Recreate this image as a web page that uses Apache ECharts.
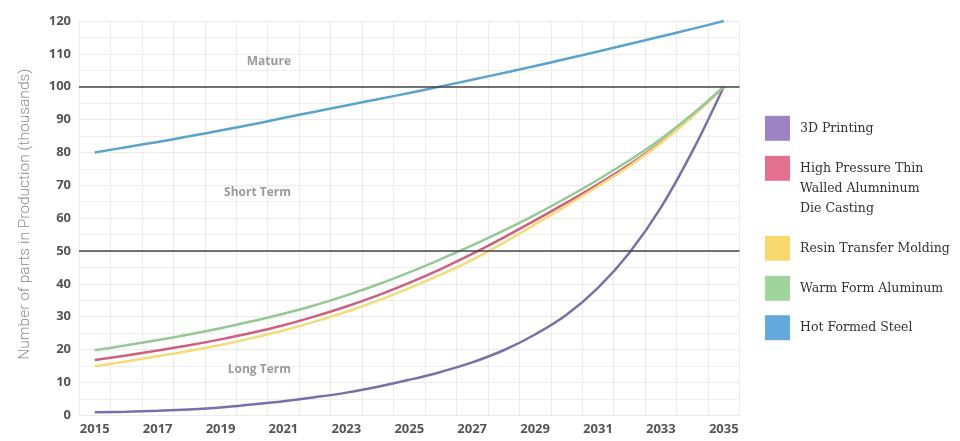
<!DOCTYPE html>
<html>
<head>
<meta charset="utf-8">
<title>Parts in production</title>
<script src="https://cdn.jsdelivr.net/npm/echarts@6/dist/echarts.min.js"></script>
<style>
  html, body { margin: 0; padding: 0; background: #fff; }
  #main { width: 960px; height: 441px; }
</style>
</head>
<body>
<div id="main"></div>
<script>
// years on the x axis
const years = ['2015','2016','2017','2018','2019','2020','2021','2022','2023','2024','2025',
               '2026','2027','2028','2029','2030','2031','2032','2033','2034','2035'];

// values (thousands of parts)
const printing3d    = [0.9, 1.1, 1.4, 1.8, 2.4, 3.3, 4.3, 5.5, 6.9, 8.7, 10.8, 13.2, 16.1, 19.8, 24.6, 30.6, 38.8, 49.5, 63.2, 80.3, 100];
const dieCasting    = [16.8, 18.2, 19.7, 21.3, 23.1, 25.1, 27.4, 30.1, 33.1, 36.5, 40.3, 44.5, 49.1, 54.1, 59.3, 64.7, 70.3, 76.3, 83.1, 91.0, 100];
const resinTransfer = [14.9, 16.4, 18.0, 19.6, 21.4, 23.5, 25.8, 28.5, 31.5, 34.9, 38.7, 42.8, 47.3, 52.5, 58.1, 63.8, 69.7, 75.9, 82.9, 91.0, 100];
const warmForm      = [19.8, 21.3, 22.9, 24.6, 26.5, 28.6, 30.9, 33.5, 36.5, 39.8, 43.5, 47.5, 51.7, 56.2, 61.0, 66.2, 71.7, 77.6, 84.1, 91.6, 100];
const hotFormed     = [80.0, 81.6, 83.2, 84.9, 86.7, 88.5, 90.5, 92.4, 94.3, 96.2, 98.1, 100.1, 102.1, 104.2, 106.3, 108.5, 110.7, 113.0, 115.3, 117.6, 120];

const seriesNames = ['3D Printing', 'High Pressure Thin\nWalled Alumninum\nDie Casting',
                     'Resin Transfer Molding', 'Warm Form Aluminum', 'Hot Formed Steel'];
const seriesData  = [printing3d, dieCasting, resinTransfer, warmForm, hotFormed];
const lineColors  = ['#7b6fa8', '#cf5f80', '#f3dc78', '#92c994', '#5aa4cc'];
const iconColors  = ['#9d82c4', '#e2708e', '#f7d86c', '#9fd49c', '#63a9dc'];
const thresholds  = [100, 50];

// legend item tops (px), one legend per entry so the 3-line name lines up with its square
const legendTops = [115.8, 118.3, 235.8, 275.8, 315.2];

const myChart = echarts.init(document.getElementById('main'));

let legends = seriesNames.map((name, i) => {
  let multi = name.indexOf('\n') > -1;
  return {
    left: 765,
    top: legendTops[i],
    padding: 0,
    orient: 'vertical',
    icon: 'rect',
    itemWidth: 25,
    itemHeight: 25,
    itemStyle: { borderWidth: 0 },
    // two empty lines on top push the 3-line name down so its first line sits beside the square
    formatter: multi ? (n => '\n\n' + n) : (n => n),
    textStyle: {
      fontFamily: 'DejaVu Serif',
      fontSize: 12.5,
      color: '#333',
      lineHeight: 20,
      padding: [0, 0, 0, 5],
      backgroundColor: 'rgba(0,0,0,0)'
    },
    data: [{ name: name, itemStyle: { color: iconColors[i] } }]
  };
});

let series = seriesNames.map((name, i) => ({
  name: name,
  type: 'line',
  data: seriesData[i],
  smooth: 0.4,
  symbol: 'none',
  color: lineColors[i],
  lineStyle: { width: 2.5, color: lineColors[i] },
  z: 3
}));

// the two black reference lines
series[0].markLine = {
  silent: true,
  symbol: 'none',
  label: { show: false },
  lineStyle: { color: '#444', width: 1.5, type: 'solid' },
  data: thresholds.map(v => ({ yAxis: v }))
};

const zoneFont = 'bold 12px "Open Sans"';

let option = {
  animation: false,
  grid: { left: 79, right: 220.5, top: 21, bottom: 25.7 },
  legend: legends,
  xAxis: {
    type: 'category',
    data: years,
    boundaryGap: true,
    axisLine: { show: false },
    axisTick: { show: false },
    axisLabel: {
      interval: 1,
      margin: 7,
      color: '#555',
      fontFamily: 'Open Sans',
      fontWeight: 'bold',
      fontSize: 13
    },
    splitLine: { show: true, interval: 0, lineStyle: { color: '#ebebeb', width: 1 } }
  },
  yAxis: {
    type: 'value',
    min: 0,
    max: 120,
    interval: 10,
    name: 'Number of parts in Production (thousands)',
    nameLocation: 'middle',
    nameGap: 46,
    nameTextStyle: {
      fontFamily: 'Roboto',
      fontWeight: 300,
      fontSize: 15.5,
      color: '#8a8a8a',
      padding: [0, 0, 0, 8]
    },
    axisLine: { show: false },
    axisTick: { show: false },
    axisLabel: {
      margin: 8,
      color: '#555',
      fontFamily: 'Open Sans',
      fontWeight: 'bold',
      fontSize: 13
    },
    splitLine: { lineStyle: { color: '#ebebeb', width: 1 } },
    minorTick: { show: false, splitNumber: 2 },
    minorSplitLine: { show: true, lineStyle: { color: '#efefef', width: 1 } }
  },
  graphic: [
    { type: 'text', z: 10, x: 291, y: 62, style: { text: 'Mature', align: 'right', verticalAlign: 'middle', fill: '#9a9a9a', font: zoneFont } },
    { type: 'text', z: 10, x: 291, y: 192.5, style: { text: 'Short Term', align: 'right', verticalAlign: 'middle', fill: '#9a9a9a', font: zoneFont } },
    { type: 'text', z: 10, x: 291, y: 370, style: { text: 'Long Term', align: 'right', verticalAlign: 'middle', fill: '#9a9a9a', font: zoneFont } }
  ],
  series: series
};

myChart.setOption(option);
</script>
</body>
</html>
